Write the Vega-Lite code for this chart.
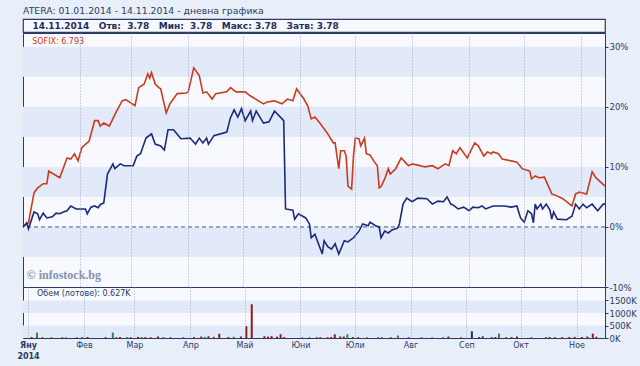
{
  "$schema": "https://vega.github.io/schema/vega-lite/v6.json",
  "background": "#e9eff9",
  "padding": {"left": 16, "top": 7, "right": 6, "bottom": 9},
  "bounds": "flush",
  "title": {
    "text": "ATERA: 01.01.2014 - 14.11.2014 - дневна графика",
    "subtitle": "\u200b\u00a0\u00a0\u00a014.11.2014\u00a0\u00a0\u00a0Отв:\u00a0\u00a03.78\u00a0\u00a0\u00a0Мин:\u00a0\u00a03.78\u00a0\u00a0\u00a0Макс:\u00a03.78\u00a0\u00a0\u00a0Затв:\u00a03.78",
    "anchor": "start",
    "frame": "group",
    "font": "DejaVu Sans",
    "fontSize": 9.3,
    "fontWeight": "normal",
    "color": "#2b3a67",
    "subtitleFont": "DejaVu Sans",
    "subtitleFontSize": 9,
    "subtitleFontWeight": "bold",
    "subtitleColor": "#1f2d5c",
    "subtitlePadding": 5.5,
    "offset": -12.5
  },
  "config": {"font": "DejaVu Sans", "view": {"stroke": "#2b3a67"}},
  "datasets": {
    "bands_main": [{"lo": -5, "hi": 0}, {"lo": 5, "hi": 10}, {"lo": 15, "hi": 20}, {"lo": 25, "hi": 30}],
    "bands_vol": [{"lo": 0, "hi": 500000}, {"lo": 1000000, "hi": 1500000}],
    "prices": [
      {"date": "2014-01-01", "s": "SOFIX", "v": 0},
      {"date": "2014-01-04", "s": "SOFIX", "v": 0.7},
      {"date": "2014-01-07", "s": "SOFIX", "v": 5.7},
      {"date": "2014-01-09", "s": "SOFIX", "v": 6.5},
      {"date": "2014-01-12", "s": "SOFIX", "v": 7.2},
      {"date": "2014-01-14", "s": "SOFIX", "v": 7.2},
      {"date": "2014-01-15", "s": "SOFIX", "v": 9.3},
      {"date": "2014-01-21", "s": "SOFIX", "v": 8.2},
      {"date": "2014-01-25", "s": "SOFIX", "v": 11.5},
      {"date": "2014-01-27", "s": "SOFIX", "v": 11.3},
      {"date": "2014-01-29", "s": "SOFIX", "v": 12.2},
      {"date": "2014-01-31", "s": "SOFIX", "v": 11},
      {"date": "2014-02-02", "s": "SOFIX", "v": 13.2},
      {"date": "2014-02-06", "s": "SOFIX", "v": 14.3},
      {"date": "2014-02-09", "s": "SOFIX", "v": 17.7},
      {"date": "2014-02-11", "s": "SOFIX", "v": 17.7},
      {"date": "2014-02-12", "s": "SOFIX", "v": 16.8},
      {"date": "2014-02-14", "s": "SOFIX", "v": 17.3},
      {"date": "2014-02-17", "s": "SOFIX", "v": 16.8},
      {"date": "2014-02-21", "s": "SOFIX", "v": 19.3},
      {"date": "2014-02-24", "s": "SOFIX", "v": 21},
      {"date": "2014-02-26", "s": "SOFIX", "v": 21.2},
      {"date": "2014-03-03", "s": "SOFIX", "v": 20.2},
      {"date": "2014-03-05", "s": "SOFIX", "v": 23.2},
      {"date": "2014-03-08", "s": "SOFIX", "v": 23.8},
      {"date": "2014-03-10", "s": "SOFIX", "v": 25.5},
      {"date": "2014-03-11", "s": "SOFIX", "v": 24.8},
      {"date": "2014-03-12", "s": "SOFIX", "v": 25.7},
      {"date": "2014-03-14", "s": "SOFIX", "v": 23.8},
      {"date": "2014-03-16", "s": "SOFIX", "v": 23.2},
      {"date": "2014-03-17", "s": "SOFIX", "v": 23},
      {"date": "2014-03-20", "s": "SOFIX", "v": 19},
      {"date": "2014-03-22", "s": "SOFIX", "v": 20.5},
      {"date": "2014-03-26", "s": "SOFIX", "v": 22.2},
      {"date": "2014-03-31", "s": "SOFIX", "v": 22.3},
      {"date": "2014-04-01", "s": "SOFIX", "v": 22.5},
      {"date": "2014-04-04", "s": "SOFIX", "v": 26.5},
      {"date": "2014-04-07", "s": "SOFIX", "v": 25.2},
      {"date": "2014-04-09", "s": "SOFIX", "v": 22.3},
      {"date": "2014-04-11", "s": "SOFIX", "v": 22.5},
      {"date": "2014-04-14", "s": "SOFIX", "v": 21.3},
      {"date": "2014-04-16", "s": "SOFIX", "v": 22.2},
      {"date": "2014-04-22", "s": "SOFIX", "v": 22.5},
      {"date": "2014-04-24", "s": "SOFIX", "v": 23.2},
      {"date": "2014-04-27", "s": "SOFIX", "v": 22.5},
      {"date": "2014-05-02", "s": "SOFIX", "v": 22.5},
      {"date": "2014-05-05", "s": "SOFIX", "v": 21.8},
      {"date": "2014-05-12", "s": "SOFIX", "v": 20.5},
      {"date": "2014-05-14", "s": "SOFIX", "v": 20.8},
      {"date": "2014-05-18", "s": "SOFIX", "v": 21},
      {"date": "2014-05-22", "s": "SOFIX", "v": 20.5},
      {"date": "2014-05-25", "s": "SOFIX", "v": 21.3},
      {"date": "2014-05-28", "s": "SOFIX", "v": 21},
      {"date": "2014-05-30", "s": "SOFIX", "v": 23},
      {"date": "2014-06-03", "s": "SOFIX", "v": 21.3},
      {"date": "2014-06-05", "s": "SOFIX", "v": 20.2},
      {"date": "2014-06-07", "s": "SOFIX", "v": 18},
      {"date": "2014-06-09", "s": "SOFIX", "v": 18.3},
      {"date": "2014-06-12", "s": "SOFIX", "v": 17.2},
      {"date": "2014-06-16", "s": "SOFIX", "v": 15.5},
      {"date": "2014-06-19", "s": "SOFIX", "v": 14},
      {"date": "2014-06-20", "s": "SOFIX", "v": 14},
      {"date": "2014-06-22", "s": "SOFIX", "v": 9.7},
      {"date": "2014-06-23", "s": "SOFIX", "v": 12.7},
      {"date": "2014-06-25", "s": "SOFIX", "v": 12.7},
      {"date": "2014-06-26", "s": "SOFIX", "v": 11.8},
      {"date": "2014-06-27", "s": "SOFIX", "v": 6.8},
      {"date": "2014-06-29", "s": "SOFIX", "v": 6.3},
      {"date": "2014-06-30", "s": "SOFIX", "v": 11.8},
      {"date": "2014-07-01", "s": "SOFIX", "v": 14.8},
      {"date": "2014-07-03", "s": "SOFIX", "v": 14.7},
      {"date": "2014-07-04", "s": "SOFIX", "v": 13.5},
      {"date": "2014-07-06", "s": "SOFIX", "v": 14.8},
      {"date": "2014-07-07", "s": "SOFIX", "v": 12.2},
      {"date": "2014-07-09", "s": "SOFIX", "v": 12},
      {"date": "2014-07-11", "s": "SOFIX", "v": 11},
      {"date": "2014-07-13", "s": "SOFIX", "v": 10.2},
      {"date": "2014-07-14", "s": "SOFIX", "v": 6.5},
      {"date": "2014-07-15", "s": "SOFIX", "v": 6.7},
      {"date": "2014-07-17", "s": "SOFIX", "v": 8},
      {"date": "2014-07-19", "s": "SOFIX", "v": 9.7},
      {"date": "2014-07-20", "s": "SOFIX", "v": 8.8},
      {"date": "2014-07-23", "s": "SOFIX", "v": 9.7},
      {"date": "2014-07-26", "s": "SOFIX", "v": 11.5},
      {"date": "2014-07-30", "s": "SOFIX", "v": 10.2},
      {"date": "2014-08-01", "s": "SOFIX", "v": 10.5},
      {"date": "2014-08-04", "s": "SOFIX", "v": 10.3},
      {"date": "2014-08-08", "s": "SOFIX", "v": 10},
      {"date": "2014-08-12", "s": "SOFIX", "v": 10.2},
      {"date": "2014-08-15", "s": "SOFIX", "v": 9.7},
      {"date": "2014-08-19", "s": "SOFIX", "v": 10.5},
      {"date": "2014-08-21", "s": "SOFIX", "v": 10.2},
      {"date": "2014-08-23", "s": "SOFIX", "v": 12.7},
      {"date": "2014-08-25", "s": "SOFIX", "v": 12.2},
      {"date": "2014-08-27", "s": "SOFIX", "v": 13.2},
      {"date": "2014-08-31", "s": "SOFIX", "v": 11.5},
      {"date": "2014-09-04", "s": "SOFIX", "v": 14},
      {"date": "2014-09-06", "s": "SOFIX", "v": 13.5},
      {"date": "2014-09-09", "s": "SOFIX", "v": 11.8},
      {"date": "2014-09-11", "s": "SOFIX", "v": 12.5},
      {"date": "2014-09-13", "s": "SOFIX", "v": 12.2},
      {"date": "2014-09-14", "s": "SOFIX", "v": 12.5},
      {"date": "2014-09-17", "s": "SOFIX", "v": 12.2},
      {"date": "2014-09-19", "s": "SOFIX", "v": 11.3},
      {"date": "2014-09-24", "s": "SOFIX", "v": 11},
      {"date": "2014-09-27", "s": "SOFIX", "v": 10.8},
      {"date": "2014-09-30", "s": "SOFIX", "v": 9.7},
      {"date": "2014-10-04", "s": "SOFIX", "v": 9.3},
      {"date": "2014-10-05", "s": "SOFIX", "v": 8},
      {"date": "2014-10-07", "s": "SOFIX", "v": 8.5},
      {"date": "2014-10-09", "s": "SOFIX", "v": 8.2},
      {"date": "2014-10-12", "s": "SOFIX", "v": 8.3},
      {"date": "2014-10-16", "s": "SOFIX", "v": 5.5},
      {"date": "2014-10-18", "s": "SOFIX", "v": 5.3},
      {"date": "2014-10-22", "s": "SOFIX", "v": 4.7},
      {"date": "2014-10-27", "s": "SOFIX", "v": 3.5},
      {"date": "2014-10-29", "s": "SOFIX", "v": 5.5},
      {"date": "2014-10-31", "s": "SOFIX", "v": 5.8},
      {"date": "2014-11-04", "s": "SOFIX", "v": 5.5},
      {"date": "2014-11-07", "s": "SOFIX", "v": 9.2},
      {"date": "2014-11-09", "s": "SOFIX", "v": 8.2},
      {"date": "2014-11-14", "s": "SOFIX", "v": 6.8},
      {"date": "2014-01-01", "s": "ATERA", "v": 0},
      {"date": "2014-01-03", "s": "ATERA", "v": 0.7},
      {"date": "2014-01-04", "s": "ATERA", "v": -0.3},
      {"date": "2014-01-07", "s": "ATERA", "v": 2.5},
      {"date": "2014-01-09", "s": "ATERA", "v": 2.2},
      {"date": "2014-01-10", "s": "ATERA", "v": 1.2},
      {"date": "2014-01-12", "s": "ATERA", "v": 2.3},
      {"date": "2014-01-14", "s": "ATERA", "v": 1.5},
      {"date": "2014-01-17", "s": "ATERA", "v": 1.7},
      {"date": "2014-01-19", "s": "ATERA", "v": 2.3},
      {"date": "2014-01-21", "s": "ATERA", "v": 2.2},
      {"date": "2014-01-23", "s": "ATERA", "v": 2.5},
      {"date": "2014-01-25", "s": "ATERA", "v": 2.7},
      {"date": "2014-01-27", "s": "ATERA", "v": 3.5},
      {"date": "2014-01-30", "s": "ATERA", "v": 3},
      {"date": "2014-02-04", "s": "ATERA", "v": 3},
      {"date": "2014-02-05", "s": "ATERA", "v": 2.2},
      {"date": "2014-02-07", "s": "ATERA", "v": 3.3},
      {"date": "2014-02-09", "s": "ATERA", "v": 3.5},
      {"date": "2014-02-11", "s": "ATERA", "v": 3.2},
      {"date": "2014-02-12", "s": "ATERA", "v": 3.7},
      {"date": "2014-02-14", "s": "ATERA", "v": 4},
      {"date": "2014-02-16", "s": "ATERA", "v": 8.8},
      {"date": "2014-02-19", "s": "ATERA", "v": 10.5},
      {"date": "2014-02-20", "s": "ATERA", "v": 9.7},
      {"date": "2014-02-23", "s": "ATERA", "v": 10.5},
      {"date": "2014-02-25", "s": "ATERA", "v": 10.2},
      {"date": "2014-03-02", "s": "ATERA", "v": 10.2},
      {"date": "2014-03-04", "s": "ATERA", "v": 11.8},
      {"date": "2014-03-06", "s": "ATERA", "v": 12.2},
      {"date": "2014-03-09", "s": "ATERA", "v": 14.8},
      {"date": "2014-03-12", "s": "ATERA", "v": 15.5},
      {"date": "2014-03-14", "s": "ATERA", "v": 13.8},
      {"date": "2014-03-17", "s": "ATERA", "v": 13.5},
      {"date": "2014-03-19", "s": "ATERA", "v": 12.8},
      {"date": "2014-03-21", "s": "ATERA", "v": 16.2},
      {"date": "2014-03-24", "s": "ATERA", "v": 16.2},
      {"date": "2014-03-28", "s": "ATERA", "v": 14.7},
      {"date": "2014-04-02", "s": "ATERA", "v": 14.8},
      {"date": "2014-04-05", "s": "ATERA", "v": 13.8},
      {"date": "2014-04-07", "s": "ATERA", "v": 14.8},
      {"date": "2014-04-09", "s": "ATERA", "v": 14},
      {"date": "2014-04-11", "s": "ATERA", "v": 14.8},
      {"date": "2014-04-12", "s": "ATERA", "v": 13.8},
      {"date": "2014-04-15", "s": "ATERA", "v": 15.2},
      {"date": "2014-04-22", "s": "ATERA", "v": 15.8},
      {"date": "2014-04-24", "s": "ATERA", "v": 18.2},
      {"date": "2014-04-26", "s": "ATERA", "v": 19.5},
      {"date": "2014-04-28", "s": "ATERA", "v": 18.3},
      {"date": "2014-04-30", "s": "ATERA", "v": 19.7},
      {"date": "2014-05-02", "s": "ATERA", "v": 17.7},
      {"date": "2014-05-05", "s": "ATERA", "v": 19.3},
      {"date": "2014-05-06", "s": "ATERA", "v": 17.7},
      {"date": "2014-05-08", "s": "ATERA", "v": 19.3},
      {"date": "2014-05-12", "s": "ATERA", "v": 17.3},
      {"date": "2014-05-15", "s": "ATERA", "v": 17.5},
      {"date": "2014-05-18", "s": "ATERA", "v": 19.3},
      {"date": "2014-05-23", "s": "ATERA", "v": 17.7},
      {"date": "2014-05-24", "s": "ATERA", "v": 3},
      {"date": "2014-05-28", "s": "ATERA", "v": 2.8},
      {"date": "2014-05-29", "s": "ATERA", "v": 1.3},
      {"date": "2014-05-31", "s": "ATERA", "v": 2.2},
      {"date": "2014-06-04", "s": "ATERA", "v": 1.5},
      {"date": "2014-06-06", "s": "ATERA", "v": 0.5},
      {"date": "2014-06-07", "s": "ATERA", "v": -1.8},
      {"date": "2014-06-09", "s": "ATERA", "v": -1.2},
      {"date": "2014-06-13", "s": "ATERA", "v": -4.5},
      {"date": "2014-06-14", "s": "ATERA", "v": -2.3},
      {"date": "2014-06-16", "s": "ATERA", "v": -3.3},
      {"date": "2014-06-18", "s": "ATERA", "v": -3.7},
      {"date": "2014-06-20", "s": "ATERA", "v": -2.8},
      {"date": "2014-06-22", "s": "ATERA", "v": -4.5},
      {"date": "2014-06-25", "s": "ATERA", "v": -2.3},
      {"date": "2014-06-27", "s": "ATERA", "v": -2.5},
      {"date": "2014-06-30", "s": "ATERA", "v": -1.8},
      {"date": "2014-07-03", "s": "ATERA", "v": -0.7},
      {"date": "2014-07-05", "s": "ATERA", "v": 0.5},
      {"date": "2014-07-08", "s": "ATERA", "v": 0.2},
      {"date": "2014-07-09", "s": "ATERA", "v": 0.8},
      {"date": "2014-07-12", "s": "ATERA", "v": 0.2},
      {"date": "2014-07-14", "s": "ATERA", "v": 0},
      {"date": "2014-07-15", "s": "ATERA", "v": -1.8},
      {"date": "2014-07-17", "s": "ATERA", "v": -0.7},
      {"date": "2014-07-19", "s": "ATERA", "v": -1},
      {"date": "2014-07-21", "s": "ATERA", "v": -0.5},
      {"date": "2014-07-24", "s": "ATERA", "v": -0.2},
      {"date": "2014-07-25", "s": "ATERA", "v": 0.5},
      {"date": "2014-07-27", "s": "ATERA", "v": 3.8},
      {"date": "2014-07-29", "s": "ATERA", "v": 4.8},
      {"date": "2014-08-01", "s": "ATERA", "v": 4.2},
      {"date": "2014-08-04", "s": "ATERA", "v": 4.8},
      {"date": "2014-08-09", "s": "ATERA", "v": 4.7},
      {"date": "2014-08-12", "s": "ATERA", "v": 3.8},
      {"date": "2014-08-15", "s": "ATERA", "v": 4.3},
      {"date": "2014-08-18", "s": "ATERA", "v": 4.2},
      {"date": "2014-08-20", "s": "ATERA", "v": 5},
      {"date": "2014-08-22", "s": "ATERA", "v": 3.8},
      {"date": "2014-08-23", "s": "ATERA", "v": 3.7},
      {"date": "2014-08-26", "s": "ATERA", "v": 3},
      {"date": "2014-08-29", "s": "ATERA", "v": 3.3},
      {"date": "2014-09-01", "s": "ATERA", "v": 2.7},
      {"date": "2014-09-03", "s": "ATERA", "v": 3.3},
      {"date": "2014-09-06", "s": "ATERA", "v": 3.2},
      {"date": "2014-09-08", "s": "ATERA", "v": 3.5},
      {"date": "2014-09-10", "s": "ATERA", "v": 3},
      {"date": "2014-09-14", "s": "ATERA", "v": 3.5},
      {"date": "2014-09-20", "s": "ATERA", "v": 3.5},
      {"date": "2014-09-24", "s": "ATERA", "v": 3.3},
      {"date": "2014-09-27", "s": "ATERA", "v": 3.5},
      {"date": "2014-09-29", "s": "ATERA", "v": 1.5},
      {"date": "2014-10-01", "s": "ATERA", "v": 0.8},
      {"date": "2014-10-03", "s": "ATERA", "v": 2.7},
      {"date": "2014-10-05", "s": "ATERA", "v": 2.2},
      {"date": "2014-10-06", "s": "ATERA", "v": 0.7},
      {"date": "2014-10-07", "s": "ATERA", "v": 3.8},
      {"date": "2014-10-08", "s": "ATERA", "v": 3},
      {"date": "2014-10-10", "s": "ATERA", "v": 3.8},
      {"date": "2014-10-11", "s": "ATERA", "v": 3},
      {"date": "2014-10-13", "s": "ATERA", "v": 3.8},
      {"date": "2014-10-15", "s": "ATERA", "v": 2.8},
      {"date": "2014-10-16", "s": "ATERA", "v": 1.3},
      {"date": "2014-10-17", "s": "ATERA", "v": 2.5},
      {"date": "2014-10-19", "s": "ATERA", "v": 1.3},
      {"date": "2014-10-24", "s": "ATERA", "v": 1.2},
      {"date": "2014-10-27", "s": "ATERA", "v": 1.8},
      {"date": "2014-10-29", "s": "ATERA", "v": 3.8},
      {"date": "2014-10-31", "s": "ATERA", "v": 3},
      {"date": "2014-11-02", "s": "ATERA", "v": 3.8},
      {"date": "2014-11-04", "s": "ATERA", "v": 3.2},
      {"date": "2014-11-07", "s": "ATERA", "v": 3.8},
      {"date": "2014-11-10", "s": "ATERA", "v": 2.7},
      {"date": "2014-11-13", "s": "ATERA", "v": 3.8},
      {"date": "2014-11-14", "s": "ATERA", "v": 3.8}
    ],
    "volume": [
      {"date": "2014-01-03", "vol": 40000, "dir": "down"},
      {"date": "2014-01-06", "vol": 215000, "dir": "up"},
      {"date": "2014-01-09", "vol": 30000, "dir": "down"},
      {"date": "2014-01-14", "vol": 25000, "dir": "down"},
      {"date": "2014-01-20", "vol": 30000, "dir": "down"},
      {"date": "2014-01-22", "vol": 20000, "dir": "down"},
      {"date": "2014-01-28", "vol": 25000, "dir": "down"},
      {"date": "2014-01-31", "vol": 30000, "dir": "down"},
      {"date": "2014-02-03", "vol": 40000, "dir": "down"},
      {"date": "2014-02-13", "vol": 35000, "dir": "down"},
      {"date": "2014-02-17", "vol": 215000, "dir": "up"},
      {"date": "2014-02-19", "vol": 30000, "dir": "down"},
      {"date": "2014-02-21", "vol": 40000, "dir": "down"},
      {"date": "2014-02-25", "vol": 35000, "dir": "up"},
      {"date": "2014-02-27", "vol": 30000, "dir": "down"},
      {"date": "2014-03-03", "vol": 45000, "dir": "down"},
      {"date": "2014-03-05", "vol": 40000, "dir": "up"},
      {"date": "2014-03-07", "vol": 35000, "dir": "down"},
      {"date": "2014-03-10", "vol": 30000, "dir": "down"},
      {"date": "2014-03-14", "vol": 60000, "dir": "down"},
      {"date": "2014-03-17", "vol": 30000, "dir": "down"},
      {"date": "2014-03-21", "vol": 30000, "dir": "down"},
      {"date": "2014-03-28", "vol": 25000, "dir": "down"},
      {"date": "2014-04-03", "vol": 35000, "dir": "down"},
      {"date": "2014-04-07", "vol": 60000, "dir": "down"},
      {"date": "2014-04-09", "vol": 45000, "dir": "up"},
      {"date": "2014-04-11", "vol": 70000, "dir": "down"},
      {"date": "2014-04-14", "vol": 50000, "dir": "up"},
      {"date": "2014-04-17", "vol": 170000, "dir": "down"},
      {"date": "2014-04-22", "vol": 40000, "dir": "down"},
      {"date": "2014-04-25", "vol": 50000, "dir": "up"},
      {"date": "2014-04-29", "vol": 60000, "dir": "down"},
      {"date": "2014-05-02", "vol": 470000, "dir": "down"},
      {"date": "2014-05-05", "vol": 1350000, "dir": "down"},
      {"date": "2014-05-12", "vol": 70000, "dir": "down"},
      {"date": "2014-05-14", "vol": 55000, "dir": "down"},
      {"date": "2014-05-16", "vol": 75000, "dir": "down"},
      {"date": "2014-05-19", "vol": 55000, "dir": "down"},
      {"date": "2014-05-21", "vol": 150000, "dir": "down"},
      {"date": "2014-05-23", "vol": 40000, "dir": "down"},
      {"date": "2014-06-02", "vol": 20000, "dir": "down"},
      {"date": "2014-06-06", "vol": 25000, "dir": "down"},
      {"date": "2014-06-10", "vol": 30000, "dir": "down"},
      {"date": "2014-06-12", "vol": 35000, "dir": "down"},
      {"date": "2014-06-16", "vol": 30000, "dir": "down"},
      {"date": "2014-06-18", "vol": 40000, "dir": "down"},
      {"date": "2014-06-20", "vol": 150000, "dir": "down"},
      {"date": "2014-06-23", "vol": 60000, "dir": "down"},
      {"date": "2014-06-25", "vol": 60000, "dir": "down"},
      {"date": "2014-06-27", "vol": 150000, "dir": "up"},
      {"date": "2014-06-30", "vol": 40000, "dir": "down"},
      {"date": "2014-07-03", "vol": 30000, "dir": "down"},
      {"date": "2014-07-08", "vol": 25000, "dir": "down"},
      {"date": "2014-07-14", "vol": 25000, "dir": "down"},
      {"date": "2014-07-16", "vol": 25000, "dir": "down"},
      {"date": "2014-07-21", "vol": 30000, "dir": "down"},
      {"date": "2014-07-25", "vol": 100000, "dir": "up"},
      {"date": "2014-07-31", "vol": 25000, "dir": "down"},
      {"date": "2014-08-07", "vol": 25000, "dir": "down"},
      {"date": "2014-08-13", "vol": 20000, "dir": "down"},
      {"date": "2014-08-19", "vol": 25000, "dir": "down"},
      {"date": "2014-08-22", "vol": 60000, "dir": "down"},
      {"date": "2014-08-29", "vol": 25000, "dir": "down"},
      {"date": "2014-09-04", "vol": 270000, "dir": "flat"},
      {"date": "2014-09-08", "vol": 40000, "dir": "down"},
      {"date": "2014-09-10", "vol": 65000, "dir": "flat"},
      {"date": "2014-09-15", "vol": 35000, "dir": "down"},
      {"date": "2014-09-17", "vol": 40000, "dir": "down"},
      {"date": "2014-09-19", "vol": 175000, "dir": "up"},
      {"date": "2014-09-23", "vol": 30000, "dir": "down"},
      {"date": "2014-09-26", "vol": 35000, "dir": "down"},
      {"date": "2014-09-29", "vol": 60000, "dir": "down"},
      {"date": "2014-10-07", "vol": 25000, "dir": "down"},
      {"date": "2014-10-15", "vol": 30000, "dir": "down"},
      {"date": "2014-10-17", "vol": 40000, "dir": "down"},
      {"date": "2014-10-20", "vol": 30000, "dir": "down"},
      {"date": "2014-10-24", "vol": 35000, "dir": "down"},
      {"date": "2014-10-28", "vol": 40000, "dir": "down"},
      {"date": "2014-10-31", "vol": 45000, "dir": "down"},
      {"date": "2014-11-04", "vol": 40000, "dir": "down"},
      {"date": "2014-11-07", "vol": 60000, "dir": "down"},
      {"date": "2014-11-10", "vol": 175000, "dir": "down"},
      {"date": "2014-11-12", "vol": 50000, "dir": "down"},
      {"date": "2014-11-14", "vol": 627, "dir": "down"}
    ]
  },
  "resolve": {"scale": {"color": "independent", "y": "independent"}},
  "spacing": 1,
  "vconcat": [
    {
      "width": 582,
      "height": 13,
      "view": {"fill": "#f7f9fe", "stroke": "#2b3a67", "strokeWidth": 1.2},
      "data": {"values": [{}]},
      "mark": {"type": "point", "opacity": 0},
      "encoding": {}
    },
    {
      "spacing": 0,
      "bounds": "flush",
      "resolve": {"scale": {"color": "independent", "y": "independent"}},
      "vconcat": [
        {
          "width": 582,
          "height": 254,
          "view": {"fill": "#f7f9fe", "stroke": "#2b3a67"},
          "layer": [
            {
              "data": {"name": "bands_main"},
              "mark": {"type": "rect", "color": "#e2eaf9"},
              "encoding": {
                "y": {"field": "lo", "type": "quantitative", "scale": {"domain": [-10, 32.3], "nice": false, "zero": false}},
                "y2": {"field": "hi"}
              }
            },
            {
              "data": {"values": [{}]},
              "mark": {"type": "rule", "strokeDash": [4, 3], "color": "#4b5a82", "strokeWidth": 1},
              "encoding": {"y": {"datum": 0, "type": "quantitative", "scale": {"domain": [-10, 32.3], "nice": false, "zero": false}}}
            },
            {
              "data": {"name": "prices"},
              "mark": {"type": "line", "strokeWidth": 1.6},
              "encoding": {
                "x": {
                  "field": "date", "type": "temporal",
                  "scale": {"type": "utc", "domain": [{"year": 2014, "month": 1, "date": 1, "utc": true}, {"year": 2014, "month": 11, "date": 14, "utc": true}]},
                  "axis": {
                    "title": null, "labels": false, "ticks": false, "domain": false,
                    "grid": true, "gridDash": [1, 2], "gridColor": "#9aa6c4", "zindex": 1,
                    "values": [
                      {"year": 2014, "month": 2, "date": 1, "utc": true},
                      {"year": 2014, "month": 3, "date": 1, "utc": true},
                      {"year": 2014, "month": 4, "date": 1, "utc": true},
                      {"year": 2014, "month": 5, "date": 1, "utc": true},
                      {"year": 2014, "month": 6, "date": 1, "utc": true},
                      {"year": 2014, "month": 7, "date": 1, "utc": true},
                      {"year": 2014, "month": 8, "date": 1, "utc": true},
                      {"year": 2014, "month": 9, "date": 1, "utc": true},
                      {"year": 2014, "month": 10, "date": 1, "utc": true},
                      {"year": 2014, "month": 11, "date": 1, "utc": true}
                    ]
                  }
                },
                "y": {
                  "field": "v", "type": "quantitative",
                  "scale": {"domain": [-10, 32.3], "nice": false, "zero": false},
                  "axis": {
                    "orient": "right", "title": null, "grid": false, "domain": false,
                    "values": [-10, -5, 0, 5, 10, 15, 20, 25, 30],
                    "labelExpr": "datum.value + '%'", "labelOverlap": false,
                    "tickSize": 3, "tickColor": "#2b3a67", "labelPadding": 1,
                    "labelFont": "DejaVu Sans", "labelFontSize": 8.5, "labelColor": "#2b3a67"
                  }
                },
                "color": {"field": "s", "type": "nominal", "scale": {"domain": ["SOFIX", "ATERA"], "range": ["#cc3a1e", "#1b2a7a"]}, "legend": null}
              }
            },
            {
              "data": {"values": [{}]},
              "mark": {"type": "text", "align": "left", "baseline": "middle", "font": "DejaVu Sans", "fontSize": 8, "color": "#cc3a1e"},
              "encoding": {
                "x": {"datum": {"year": 2014, "month": 1, "date": 6, "utc": true}, "type": "temporal"},
                "y": {"datum": 30.8, "type": "quantitative"},
                "text": {"value": "SOFIX: 6.793"}
              }
            },
            {
              "data": {"values": [{}]},
              "mark": {"type": "text", "align": "left", "baseline": "middle", "font": "Liberation Serif", "fontSize": 12, "fontWeight": "bold", "color": "#8190b4"},
              "encoding": {
                "x": {"datum": {"year": 2014, "month": 1, "date": 3, "utc": true}, "type": "temporal"},
                "y": {"datum": -8, "type": "quantitative"},
                "text": {"value": "© infostock.bg"}
              }
            }
          ]
        },
        {
          "width": 582,
          "height": 51,
          "view": {"fill": "#f7f9fe", "stroke": "#2b3a67"},
          "layer": [
            {
              "data": {"name": "bands_vol"},
              "mark": {"type": "rect", "color": "#e2eaf9"},
              "encoding": {
                "y": {
                  "field": "lo", "type": "quantitative", "scale": {"domain": [0, 2040000], "nice": false},
                  "axis": {
                    "orient": "right", "title": null, "grid": false, "domain": false,
                    "values": [0, 500000, 1000000, 1500000],
                    "labelExpr": "(datum.value / 1000) + 'K'", "labelOverlap": false, "labelSeparation": 0,
                    "tickSize": 3, "tickColor": "#2b3a67", "labelPadding": 1,
                    "labelFont": "DejaVu Sans", "labelFontSize": 8.5, "labelColor": "#2b3a67"
                  }
                },
                "y2": {"field": "hi"}
              }
            },
            {
              "data": {"name": "volume"},
              "mark": {"type": "bar", "width": 2},
              "encoding": {
                "x": {
                  "field": "date", "type": "temporal",
                  "scale": {"type": "utc", "domain": [{"year": 2014, "month": 1, "date": 1, "utc": true}, {"year": 2014, "month": 11, "date": 14, "utc": true}]},
                  "axis": {
                    "title": null, "ticks": false, "domain": false,
                    "grid": true, "gridDash": [1, 2], "gridColor": "#9aa6c4", "zindex": 1,
                    "labelFlush": false, "labelOverlap": false, "labelPadding": 3,
                    "labelFont": "DejaVu Sans", "labelFontSize": 8, "labelColor": "#2b3a67", "labelLineHeight": 11,
                    "labelFontWeight": {"condition": {"test": "utcmonth(datum.value) == 0", "value": "bold"}, "value": "normal"},
                    "labelExpr": "utcmonth(datum.value) == 0 ? ['Яну', '2014'] : ['Яну','Фев','Мар','Апр','Май','Юни','Юли','Авг','Сеп','Окт','Ное','Дек'][utcmonth(datum.value)]",
                    "values": [
                      {"year": 2014, "month": 1, "date": 1, "utc": true},
                      {"year": 2014, "month": 2, "date": 1, "utc": true},
                      {"year": 2014, "month": 3, "date": 1, "utc": true},
                      {"year": 2014, "month": 4, "date": 1, "utc": true},
                      {"year": 2014, "month": 5, "date": 1, "utc": true},
                      {"year": 2014, "month": 6, "date": 1, "utc": true},
                      {"year": 2014, "month": 7, "date": 1, "utc": true},
                      {"year": 2014, "month": 8, "date": 1, "utc": true},
                      {"year": 2014, "month": 9, "date": 1, "utc": true},
                      {"year": 2014, "month": 10, "date": 1, "utc": true},
                      {"year": 2014, "month": 11, "date": 1, "utc": true}
                    ]
                  }
                },
                "y": {
                  "field": "vol", "type": "quantitative",
                  "scale": {"domain": [0, 2040000], "nice": false},
                  "axis": {
                    "orient": "right", "title": null, "grid": false, "domain": false,
                    "values": [0, 500000, 1000000, 1500000],
                    "labelExpr": "(datum.value / 1000) + 'K'", "labelOverlap": false, "labelSeparation": 0,
                    "tickSize": 3, "tickColor": "#2b3a67", "labelPadding": 1,
                    "labelFont": "DejaVu Sans", "labelFontSize": 8.5, "labelColor": "#2b3a67"
                  }
                },
                "color": {"field": "dir", "type": "nominal", "scale": {"domain": ["down", "up", "flat"], "range": ["#8e1c1c", "#2f8a3a", "#1f2f7a"]}, "legend": null}
              }
            },
            {
              "data": {"values": [{}]},
              "mark": {"type": "text", "align": "left", "baseline": "middle", "font": "DejaVu Sans", "fontSize": 8, "color": "#2b3a67"},
              "encoding": {
                "x": {"datum": {"year": 2014, "month": 1, "date": 6, "utc": true}, "type": "temporal"},
                "y": {
                  "datum": 1780000, "type": "quantitative",
                  "axis": {
                    "orient": "right", "title": null, "grid": false, "domain": false,
                    "values": [0, 500000, 1000000, 1500000],
                    "labelExpr": "(datum.value / 1000) + 'K'", "labelOverlap": false, "labelSeparation": 0,
                    "tickSize": 3, "tickColor": "#2b3a67", "labelPadding": 1,
                    "labelFont": "DejaVu Sans", "labelFontSize": 8.5, "labelColor": "#2b3a67"
                  }
                },
                "text": {"value": "Обем (лотове): 0.627K"}
              }
            }
          ]
        }
      ]
    }
  ]
}
